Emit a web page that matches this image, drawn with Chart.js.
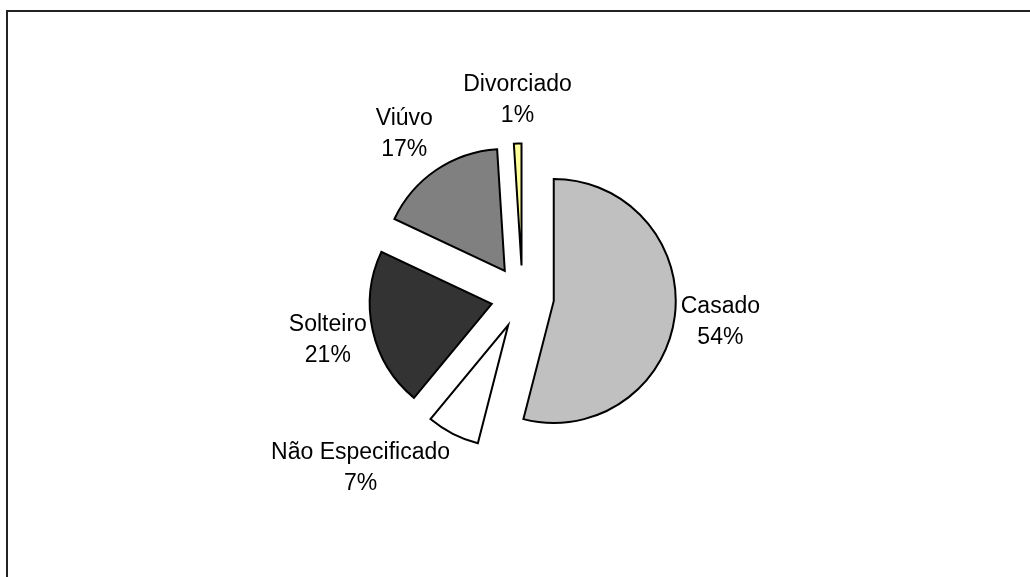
<!DOCTYPE html>
<html>
<head>
<meta charset="utf-8">
<script src="https://cdn.jsdelivr.net/npm/chart.js@4.4.1/dist/chart.umd.min.js"></script>
<style>
  html, body { margin: 0; padding: 0; background: #fff; width: 1030px; height: 577px; overflow: hidden; }
  #frame { position: absolute; left: 6px; top: 10px; width: 1100px; height: 700px; border-left: 2px solid #222; border-top: 2px solid #222; }
  #wrap { position: absolute; left: 0; top: 0; width: 1030px; height: 577px; }
</style>
</head>
<body>
<div id="frame"></div>
<div id="wrap"><canvas id="c" width="1030" height="577"></canvas></div>
<script>
const categories = ['Casado', 'Não Especificado', 'Solteiro', 'Viúvo', 'Divorciado'];
const values = [54, 7, 21, 17, 1];
const valueLabels = ['54%', '7%', '21%', '17%', '1%'];

const sliceColors = ['#C0C0C0', '#FFFFFF', '#333333', '#808080', '#FFFF99'];
const EXPLODE = 31.5;
const LABEL_GAP = 6;
const FONT = '23px "Liberation Sans", Arial, sans-serif';
const LINE_H = 31;

const explodePlugin = {
  id: 'explode',
  beforeDatasetsDraw(chart) {
    const ca = chart.chartArea;
    const cx = (ca.left + ca.right) / 2, cy = (ca.top + ca.bottom) / 2;
    chart.getDatasetMeta(0).data.forEach(el => {
      const m = (el.startAngle + el.endAngle) / 2;
      el.x = cx + Math.cos(m) * EXPLODE;
      el.y = cy + Math.sin(m) * EXPLODE;
    });
  },
  afterDatasetsDraw(chart) {
    const ctx = chart.ctx;
    ctx.save();
    ctx.font = FONT;
    ctx.fillStyle = '#000';
    ctx.textAlign = 'center';
    ctx.textBaseline = 'alphabetic';
    chart.getDatasetMeta(0).data.forEach((el, i) => {
      const m = (el.startAngle + el.endAngle) / 2;
      const dx = Math.cos(m), dy = Math.sin(m);
      const r = el.outerRadius + LABEL_GAP;
      const px = el.x + dx * r, py = el.y + dy * r;
      const lines = [categories[i], valueLabels[i]];
      const w = Math.max(...lines.map(t => ctx.measureText(t).width));
      const h = LINE_H * lines.length;
      let bx;
      if (dx > 0.15) bx = px + w / 2;
      else if (dx < -0.15) bx = px - w / 2;
      else bx = px;
      const by = py + dy * h / 2 - Math.max(0, -dy) * 8;
      const top = by - h / 2;
      lines.forEach((t, k) => ctx.fillText(t, bx, top + 23 + k * LINE_H));
    });
    ctx.restore();
  }
};

new Chart(document.getElementById('c'), {
  type: 'pie',
  data: {
    labels: categories,
    datasets: [{
      data: values,
      backgroundColor: sliceColors,
      borderColor: '#000',
      borderWidth: 2,
      borderJoinStyle: 'miter'
    }]
  },
  options: {
    responsive: false,
    animation: false,
    radius: 122,
    layout: { padding: { left: 15, right: 0, top: 17, bottom: 0 } },
    plugins: { legend: { display: false }, title: { display: false }, tooltip: { enabled: false } }
  },
  plugins: [explodePlugin]
});
</script>
</body>
</html>
